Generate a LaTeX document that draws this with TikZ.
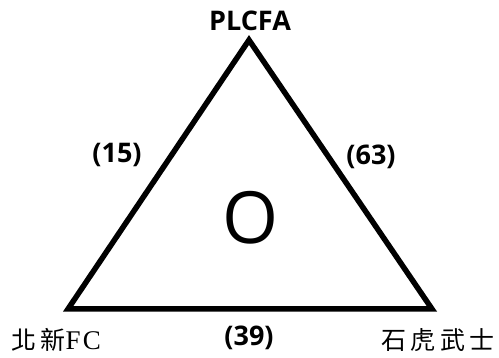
\documentclass[tikz,border=0pt]{standalone}
\usepackage{fontspec}
\setsansfont{Open Sans}
\newfontfamily\cjk[LetterSpace=18]{Noto Sans CJK TC}
\newfontfamily\latn[LetterSpace=8]{Liberation Serif}
\usetikzlibrary{positioning}

\begin{document}
\begin{tikzpicture}[x=1pt,y=-1pt,
	score/.style={font=\sffamily\bfseries\fontsize{27}{27}\selectfont},
	team/.style={font=\cjk\fontsize{25}{25}\selectfont}]
		
		\useasboundingbox (0,0) rectangle (499,358);
		
		\coordinate (P) at (249,40);
		\coordinate (N) at (68,309);
		\coordinate (S) at (432,309);
		
		\draw[line width=5.5pt,line join=miter]
		(P)--(N)--(S)--cycle;
		
		\node[score] (PL) at (250,21)
		{PLCFA};
		
		\node[team] (NF) at (56,340)
		{北新{\latn\fontsize{27}{27}\selectfont FC}};
		
		\node[team] (SH) at (438,340)
		{石虎武士};
		
		\node[score] (PN) at (117,155)
		{(15)};
		
		\node[score] (PS) at (371,157)
		{(63)};
		
		\node[score] (NS) at (249,338)
		{(39)};
		
		\node[font=\sffamily\fontsize{72}{72}\selectfont] (O) at (251,218)
		{O};
		
	\end{tikzpicture}
\end{document}
